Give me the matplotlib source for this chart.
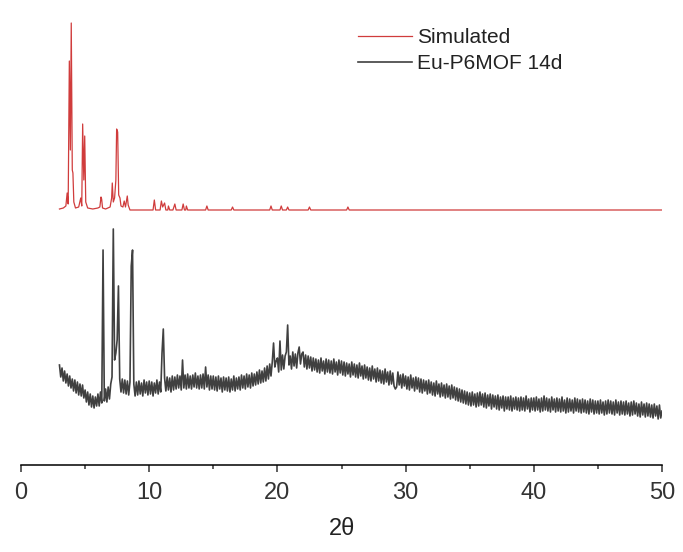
import numpy as np
import matplotlib
matplotlib.use('Agg')
import matplotlib.pyplot as plt
from matplotlib.ticker import MultipleLocator

plt.rcParams['font.family'] = ['Liberation Sans', 'DejaVu Sans']

labels = ['Simulated', 'Eu-P6MOF 14d']
colors = ['#d03c3c', '#404040']

# simulated pattern: peak positions (2theta) and heights above its own baseline
sim_x = [3.0, 3.3, 3.5, 3.6, 3.68, 3.77, 3.85, 3.92, 4.0, 4.05, 4.12, 4.25, 4.5, 4.66, 4.74,
         4.81, 4.9, 4.97, 5.05, 5.2, 5.6, 6.0, 6.15, 6.24, 6.29, 6.36, 6.6, 6.95, 7.07, 7.12,
         7.2, 7.3, 7.4, 7.46, 7.54, 7.62, 7.72, 7.8, 7.95, 8.05, 8.15, 8.29, 8.36, 8.5,
         10.3, 10.4, 10.5, 10.85, 10.95, 11.05, 11.2, 11.3, 11.45, 11.5, 11.6, 11.85, 12.0,
         12.1, 12.55, 12.65, 12.75, 12.85, 12.9, 13.0, 14.4, 14.5, 14.6, 16.4, 16.5, 16.6,
         19.4, 19.5, 19.6, 20.2, 20.3, 20.4, 20.7, 20.8, 20.9, 22.4, 22.5, 22.6, 25.4, 25.5,
         25.6, 50.0]
sim_y = [1, 2, 4, 17, 6, 149, 60, 187, 40, 37, 8, 2, 3, 12, 4,
         86, 30, 74, 8, 2, 1, 2, 3, 13, 11, 2, 1, 3, 12, 27,
         8, 12, 30, 81, 78, 15, 12, 4, 3, 9, 3, 14, 5, 0,
         0, 10, 0, 0, 9, 3, 7, 0, 0, 4, 0, 0, 6,
         0, 0, 6, 0, 0, 4, 0, 0, 4, 0, 0, 3, 0,
         0, 4, 0, 0, 4, 0, 0, 3, 0, 0, 3, 0, 0, 3,
         0, 0]
sim_offset = 255

# measured pattern, 2theta = 3.0 ... 50.0 in 0.1 steps (one row per degree)
exp_start, exp_step = 3.0, 0.1
exp_y = [
    100, 88, 97, 84, 94, 82, 91, 79, 89, 77,
    86, 74, 85, 72, 83, 70, 81, 69, 80, 67,
    75, 63, 73, 60, 71, 58, 69, 57, 68, 59,
    71, 59, 73, 62, 215, 64, 76, 63, 78, 66,
    81, 88, 236, 105, 112, 125, 179, 86, 73, 86,
    72, 85, 71, 84, 70, 83, 199, 215, 81, 69,
    83, 70, 84, 71, 82, 69, 85, 72, 83, 70,
    84, 71, 83, 69, 82, 72, 85, 71, 83, 73,
    112, 136, 87, 74, 88, 75, 87, 73, 89, 75,
    88, 76, 90, 77, 89, 75, 105, 77, 90, 76,
    91, 77, 89, 76, 90, 78, 92, 77, 89, 76,
    90, 77, 91, 76, 98, 78, 90, 75, 89, 76,
    89, 75, 88, 74, 89, 76, 87, 73, 88, 75,
    87, 74, 88, 73, 86, 75, 89, 74, 87, 76,
    88, 75, 90, 77, 89, 76, 91, 78, 90, 77,
    92, 79, 91, 80, 93, 81, 95, 82, 94, 83,
    97, 84, 99, 86, 101, 89, 103, 122, 98, 104,
    107, 93, 124, 95, 110, 96, 109, 113, 140, 100,
    109, 96, 113, 99, 111, 97, 112, 118, 101, 111,
    113, 98, 110, 96, 109, 97, 108, 94, 107, 95,
    106, 93, 105, 92, 107, 94, 104, 91, 106, 93,
    105, 92, 104, 91, 106, 93, 103, 90, 105, 92,
    104, 90, 103, 89, 102, 91, 101, 88, 103, 90,
    101, 88, 100, 87, 102, 89, 99, 86, 100, 87,
    98, 85, 97, 84, 99, 86, 96, 83, 97, 84,
    95, 82, 94, 81, 96, 83, 93, 80, 94, 81,
    92, 79, 76, 78, 93, 80, 90, 77, 91, 79,
    89, 76, 88, 75, 90, 77, 87, 74, 88, 76,
    87, 73, 86, 72, 85, 74, 84, 71, 85, 72,
    83, 70, 82, 69, 84, 71, 81, 68, 82, 69,
    80, 67, 81, 68, 79, 66, 80, 67, 78, 65,
    77, 64, 76, 63, 75, 62, 74, 61, 73, 60,
    72, 59, 73, 60, 71, 58, 72, 59, 73, 60,
    71, 58, 72, 57, 70, 59, 71, 56, 70, 58,
    69, 56, 70, 55, 68, 57, 69, 54, 68, 56,
    68, 55, 69, 54, 67, 56, 68, 55, 67, 54,
    68, 55, 67, 54, 69, 56, 66, 53, 67, 55,
    67, 54, 68, 55, 66, 53, 67, 54, 69, 55,
    67, 54, 66, 53, 68, 55, 66, 53, 67, 54,
    66, 53, 68, 54, 65, 52, 67, 53, 66, 54,
    65, 52, 67, 54, 66, 53, 65, 52, 66, 53,
    65, 52, 64, 51, 66, 53, 65, 51, 64, 52,
    64, 51, 65, 52, 63, 50, 64, 51, 65, 52,
    64, 51, 63, 50, 65, 52, 63, 50, 64, 51,
    63, 50, 64, 51, 62, 49, 63, 50, 64, 51,
    62, 49, 61, 48, 63, 50, 61, 48, 62, 49,
    61, 48, 60, 47, 61, 49, 59, 46, 60, 47,
    54,
]
exp_x = exp_start + exp_step * np.arange(len(exp_y))

fig = plt.figure(figsize=(6.83, 5.52), dpi=100)
ax = fig.add_axes([21/683, 87/552, 641/683, 450/552])

ax.plot(sim_x, np.array(sim_y) + sim_offset, color=colors[0], lw=0.9, label=labels[0])
ax.plot(exp_x, exp_y, color=colors[1], lw=1.2, label=labels[1])

ax.set_xlim(0, 50)
ax.set_ylim(0, 450)
for s in ['left', 'top', 'right']:
    ax.spines[s].set_visible(False)
ax.spines['bottom'].set_linewidth(1.1)
ax.set_yticks([])
ax.xaxis.set_major_locator(MultipleLocator(10))
ax.xaxis.set_minor_locator(MultipleLocator(5))
ax.tick_params(axis='x', which='major', length=5, width=1.1, pad=7, labelsize=17, colors='#333333')
ax.tick_params(axis='x', which='minor', length=3, width=1.1, colors='#333333')
ax.set_xlabel('2θ', fontsize=17, labelpad=10, color='#222222')

leg = ax.legend(loc='upper left', bbox_to_anchor=(358/683, 1 - 28/552),
                bbox_transform=fig.transFigure, frameon=False, fontsize=15,
                handlelength=2.6, handletextpad=0.25, labelspacing=0.35,
                borderpad=0, borderaxespad=0)
for t in leg.get_texts():
    t.set_color('#222222')

fig.savefig('out.png', dpi=100)
